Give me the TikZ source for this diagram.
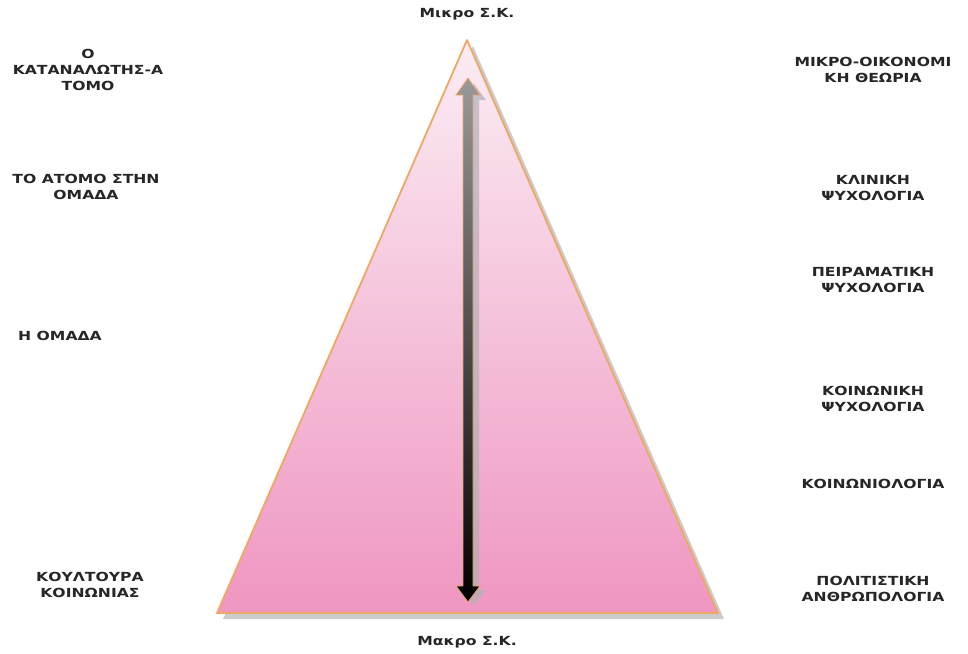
\documentclass[tikz,border=0pt]{standalone}
\usepackage{fontspec}
\newfontfamily\lbl[FakeStretch=1.25]{DejaVu Sans Bold}
\definecolor{txt}{HTML}{262626}
\definecolor{edgeor}{HTML}{EDA866}
\definecolor{pinktop}{HTML}{FBEDF4}
\definecolor{pinkbot}{HTML}{EF96C1}
\tikzset{
  lab/.style={font=\lbl\fontsize{12.5}{16}\selectfont, text=txt, align=center, inner sep=0pt},
}
\begin{document}
\begin{tikzpicture}[x=1pt,y=-1pt]
\useasboundingbox (0,0) rectangle (968,653);
% triangle shadow
\fill[black!25, opacity=0.8] (473,46) -- (724,619) -- (223,619) -- cycle;
% triangle
\shade[top color=pinktop, bottom color=pinkbot, draw=edgeor, line width=1.8pt, line join=round]
  (467,40) -- (718,613) -- (217,613) -- cycle;
% arrow shadow
\fill[black!30, opacity=0.7] (474,84) -- (486,100) -- (479,100) -- (479,590) -- (486,590) -- (474,606)
  -- (462,590) -- (469,590) -- (469,100) -- (462,100) -- cycle;
% arrow
\shade[top color=black!40, bottom color=black, draw=edgeor, line width=0.8pt, line join=miter]
  (468,78) -- (480,95) -- (473,95) -- (473,586) -- (480,586) -- (468,602)
  -- (456,586) -- (463,586) -- (463,95) -- (456,95) -- cycle;
% labels
\node[lab] (mikro) at (467,14) {Μικρο Σ.Κ.};
\node[lab] (makro) at (467,642) {Μακρο Σ.Κ.};
\node[lab] (l1) at (88,70) {Ο\\ΚΑΤΑΝΑΛΩΤΗΣ-Α\\ΤΟΜΟ};
\node[lab] (l2) at (86,187) {ΤΟ ΑΤΟΜΟ ΣΤΗΝ\\ΟΜΑΔΑ};
\node[lab] (l3) at (60,336) {Η ΟΜΑΔΑ};
\node[lab] (l4) at (90,585) {ΚΟΥΛΤΟΥΡΑ\\ΚΟΙΝΩΝΙΑΣ};
\node[lab] (r1) at (873,70) {ΜΙΚΡΟ-ΟΙΚΟΝΟΜΙ\\ΚΗ ΘΕΩΡΙΑ};
\node[lab] (r2) at (873,188) {ΚΛΙΝΙΚΗ\\ΨΥΧΟΛΟΓΙΑ};
\node[lab] (r3) at (873,280) {ΠΕΙΡΑΜΑΤΙΚΗ\\ΨΥΧΟΛΟΓΙΑ};
\node[lab] (r4) at (873,399) {ΚΟΙΝΩΝΙΚΗ\\ΨΥΧΟΛΟΓΙΑ};
\node[lab] (r5) at (873,484) {ΚΟΙΝΩΝΙΟΛΟΓΙΑ};
\node[lab] (r6) at (873,589) {ΠΟΛΙΤΙΣΤΙΚΗ\\ΑΝΘΡΩΠΟΛΟΓΙΑ};
\end{tikzpicture}
\end{document}
